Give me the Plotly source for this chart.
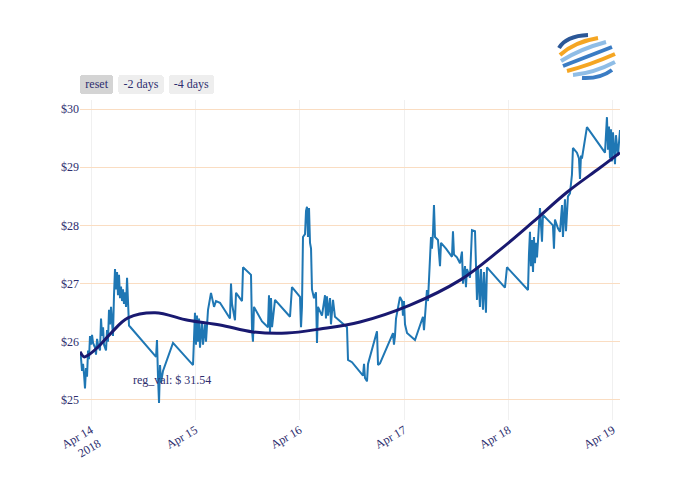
"""Price trace with polynomial regression overlay, range selector and logo."""
import plotly.graph_objects as go

_NAVY = "#191970"
_BLUE = "#1f77b4"
_TEXT = "#2E2E6E"
_FONT = "Liberation Serif, Times New Roman, serif"

# price series
times = [
    "2018-04-13 21:28", "2018-04-13 21:42", "2018-04-13 21:56", "2018-04-13 22:10",
    "2018-04-13 22:23", "2018-04-13 22:37", "2018-04-13 22:51", "2018-04-13 23:05",
    "2018-04-13 23:19", "2018-04-13 23:32", "2018-04-13 23:46", "2018-04-14 00:00",
    "2018-04-14 00:14", "2018-04-14 00:28", "2018-04-14 00:55", "2018-04-14 01:09",
    "2018-04-14 01:23", "2018-04-14 01:37", "2018-04-14 02:04", "2018-04-14 02:18",
    "2018-04-14 02:32", "2018-04-14 02:46", "2018-04-14 02:59", "2018-04-14 03:27",
    "2018-04-14 03:41", "2018-04-14 03:54", "2018-04-14 04:08", "2018-04-14 04:22",
    "2018-04-14 04:36", "2018-04-14 04:50", "2018-04-14 05:03", "2018-04-14 05:17",
    "2018-04-14 05:31", "2018-04-14 05:45", "2018-04-14 05:59", "2018-04-14 06:12",
    "2018-04-14 06:26", "2018-04-14 06:40", "2018-04-14 06:54", "2018-04-14 07:08",
    "2018-04-14 07:21", "2018-04-14 07:35", "2018-04-14 07:49", "2018-04-14 08:03",
    "2018-04-14 08:17", "2018-04-14 08:30", "2018-04-14 08:44", "2018-04-14 14:57",
    "2018-04-14 15:10", "2018-04-14 15:24", "2018-04-14 15:38", "2018-04-14 15:52",
    "2018-04-14 16:06", "2018-04-14 16:33", "2018-04-14 18:51", "2018-04-14 23:27",
    "2018-04-14 23:41", "2018-04-14 23:54", "2018-04-15 00:08", "2018-04-15 00:22",
    "2018-04-15 00:36", "2018-04-15 00:50", "2018-04-15 01:03", "2018-04-15 01:31",
    "2018-04-15 01:45", "2018-04-15 02:12", "2018-04-15 02:26", "2018-04-15 02:54",
    "2018-04-15 03:35", "2018-04-15 04:17", "2018-04-15 04:44", "2018-04-15 05:39",
    "2018-04-15 07:57", "2018-04-15 08:11", "2018-04-15 08:25", "2018-04-15 09:06",
    "2018-04-15 09:20", "2018-04-15 10:43", "2018-04-15 10:57", "2018-04-15 12:47",
    "2018-04-15 13:01", "2018-04-15 13:14", "2018-04-15 13:28", "2018-04-15 15:19",
    "2018-04-15 16:41", "2018-04-15 16:55", "2018-04-15 17:09", "2018-04-15 17:23",
    "2018-04-15 17:37", "2018-04-15 18:18", "2018-04-15 21:45", "2018-04-15 22:12",
    "2018-04-16 00:03", "2018-04-16 00:17", "2018-04-16 00:30", "2018-04-16 00:44",
    "2018-04-16 01:12", "2018-04-16 01:26", "2018-04-16 01:39", "2018-04-16 01:53",
    "2018-04-16 02:07", "2018-04-16 02:21", "2018-04-16 02:35", "2018-04-16 02:48",
    "2018-04-16 03:16", "2018-04-16 03:43", "2018-04-16 03:57", "2018-04-16 04:11",
    "2018-04-16 05:06", "2018-04-16 05:48", "2018-04-16 06:01", "2018-04-16 06:15",
    "2018-04-16 06:29", "2018-04-16 06:57", "2018-04-16 07:10", "2018-04-16 07:38",
    "2018-04-16 08:05", "2018-04-16 10:51", "2018-04-16 11:05", "2018-04-16 12:00",
    "2018-04-16 14:32", "2018-04-16 14:46", "2018-04-16 14:59", "2018-04-16 15:27",
    "2018-04-16 15:41", "2018-04-16 17:45", "2018-04-16 17:59", "2018-04-16 18:26",
    "2018-04-16 21:26", "2018-04-16 21:39", "2018-04-16 21:53", "2018-04-16 22:07",
    "2018-04-16 23:02", "2018-04-16 23:30", "2018-04-16 23:43", "2018-04-16 23:57",
    "2018-04-17 00:11", "2018-04-17 00:39", "2018-04-17 02:29", "2018-04-17 04:19",
    "2018-04-17 04:33", "2018-04-17 04:47", "2018-04-17 05:14", "2018-04-17 05:28",
    "2018-04-17 05:42", "2018-04-17 05:56", "2018-04-17 06:10", "2018-04-17 06:23",
    "2018-04-17 06:37", "2018-04-17 06:51", "2018-04-17 07:05", "2018-04-17 07:46",
    "2018-04-17 08:14", "2018-04-17 08:28", "2018-04-17 09:37", "2018-04-17 10:59",
    "2018-04-17 11:13", "2018-04-17 11:27", "2018-04-17 12:08", "2018-04-17 12:50",
    "2018-04-17 13:17", "2018-04-17 13:31", "2018-04-17 13:59", "2018-04-17 14:12",
    "2018-04-17 14:26", "2018-04-17 15:08", "2018-04-17 15:35", "2018-04-17 16:17",
    "2018-04-17 16:30", "2018-04-17 16:44", "2018-04-17 16:58", "2018-04-17 17:25",
    "2018-04-17 17:39", "2018-04-17 18:07", "2018-04-17 18:21", "2018-04-17 18:48",
    "2018-04-17 19:02", "2018-04-17 23:10", "2018-04-17 23:38", "2018-04-18 04:28",
    "2018-04-18 04:41", "2018-04-18 04:55", "2018-04-18 05:09", "2018-04-18 05:23",
    "2018-04-18 05:37", "2018-04-18 05:50", "2018-04-18 06:04", "2018-04-18 06:18",
    "2018-04-18 06:32", "2018-04-18 07:13", "2018-04-18 07:41", "2018-04-18 07:54",
    "2018-04-18 10:12", "2018-04-18 10:26", "2018-04-18 10:40", "2018-04-18 11:21",
    "2018-04-18 11:49", "2018-04-18 12:17", "2018-04-18 12:30", "2018-04-18 12:58",
    "2018-04-18 13:12", "2018-04-18 13:39", "2018-04-18 14:07", "2018-04-18 14:34",
    "2018-04-18 14:48", "2018-04-18 15:43", "2018-04-18 16:11", "2018-04-18 16:25",
    "2018-04-18 16:39", "2018-04-18 16:52", "2018-04-18 18:01", "2018-04-18 22:10",
    "2018-04-18 22:37", "2018-04-18 22:51", "2018-04-18 23:05", "2018-04-18 23:19",
    "2018-04-18 23:32", "2018-04-18 23:46", "2018-04-19 00:00", "2018-04-19 00:28",
    "2018-04-19 00:41", "2018-04-19 01:09", "2018-04-19 01:37",
]
prices = [
    25.80, 25.72, 25.50, 25.62, 25.45, 25.20, 25.55, 25.40,
    25.85, 25.70, 26.10, 25.95, 26.12, 25.98, 25.90, 25.78,
    26.05, 25.95, 25.85, 26.40, 26.10, 26.25, 25.95, 25.85,
    26.20, 26.00, 26.55, 26.30, 26.60, 26.20, 26.10, 26.80,
    27.25, 26.90, 27.20, 26.80, 27.15, 26.75, 26.95, 26.70,
    26.90, 26.65, 26.85, 26.60, 27.10, 26.70, 26.28, 25.74,
    26.03, 25.40, 24.95, 25.60, 25.30, 25.50, 25.98, 25.60,
    26.10, 26.50, 25.95, 26.45, 26.00, 26.40, 25.90, 26.35,
    25.95, 26.30, 26.00, 26.55, 26.84, 26.60, 26.70, 26.67,
    26.40, 27.00, 26.65, 26.37, 26.84, 26.70, 27.28, 27.15,
    26.20, 26.00, 26.60, 26.35, 26.25, 26.80, 26.15, 26.75,
    26.25, 26.72, 26.43, 26.94, 26.77, 26.25, 26.60, 27.80,
    27.85, 28.25, 28.32, 27.80, 28.30, 27.70, 27.60, 26.90,
    26.75, 26.85, 25.98, 26.60, 26.45, 26.80, 26.40, 26.78,
    26.45, 26.75, 26.30, 26.72, 26.43, 26.25, 25.69, 25.65,
    25.42, 25.62, 25.38, 25.32, 25.62, 26.18, 25.60, 25.63,
    26.15, 25.95, 26.10, 26.40, 26.77, 26.70, 26.45, 26.70,
    26.30, 26.15, 26.03, 26.43, 26.20, 26.50, 26.89, 26.70,
    27.00, 27.37, 27.80, 27.60, 27.87, 28.35, 27.80, 27.75,
    27.30, 27.70, 27.60, 27.46, 27.90, 27.50, 27.45, 27.35,
    27.55, 27.00, 27.30, 26.94, 27.25, 27.10, 27.92, 27.90,
    27.40, 26.72, 27.30, 26.60, 27.25, 26.55, 27.20, 26.50,
    27.28, 26.93, 27.28, 26.89, 27.50, 27.89, 27.30, 27.75,
    27.20, 27.80, 27.35, 27.70, 27.45, 28.30, 27.72, 28.18,
    28.00, 27.60, 28.10, 27.95, 27.89, 28.35, 27.80, 28.45,
    27.90, 28.50, 28.55, 28.87, 29.33, 29.25, 29.15, 28.80,
    29.20, 29.15, 29.69, 29.25, 29.86, 29.30, 29.70, 29.15,
    29.65, 29.10, 29.60, 29.05, 29.55, 29.20, 29.64,
]

# regression curve samples
reg_times = [
    "2018-04-13 21:28", "2018-04-13 22:23", "2018-04-13 23:19", "2018-04-14 01:37",
    "2018-04-14 04:36", "2018-04-14 08:30", "2018-04-14 14:43", "2018-04-14 22:18",
    "2018-04-15 05:39", "2018-04-15 13:14", "2018-04-15 21:03", "2018-04-16 04:39",
    "2018-04-16 13:50", "2018-04-17 01:20", "2018-04-17 12:50", "2018-04-17 22:01",
    "2018-04-18 05:37", "2018-04-18 13:26", "2018-04-18 21:01", "2018-04-19 01:37",
]
reg_prices = [
    25.83, 25.74, 25.77, 25.91, 26.15, 26.41, 26.50, 26.37,
    26.29, 26.17, 26.15, 26.22, 26.34, 26.63, 27.06, 27.58,
    28.06, 28.57, 28.99, 29.25,
]

reg_label = "reg_val: $ 31.54"
reg_label_at = ("2018-04-14 18:37", 25.34)

button_labels = ["reset", "-2 days", "-4 days"]


def _px(x, y):
    # pixel position -> paper coords for the 700x500 canvas (plot area 80..620, 100..420)
    return (x - 80) / 540, (420 - y) / 320


def _arc(p0, c, p1):
    (x0, y0), (cx, cy), (x1, y1) = _px(*p0), _px(*c), _px(*p1)
    return f"M {x0},{y0} Q {cx},{cy} {x1},{y1}"


# logo stripes: (start, control, end, colour)
_logo = [
    ((559, 48), (566, 36), (588, 35), "#2B5797"),
    ((560, 55), (574, 42), (598, 38), "#F5A623"),
    ((561, 61), (580, 49), (606, 42), "#8FBDE6"),
    ((563, 66), (586, 57), (612, 47), "#3A7CC4"),
    ((567, 71), (590, 65), (615, 54), "#F5A623"),
    ((573, 75), (594, 73), (615, 62), "#8FBDE6"),
    ((582, 78), (600, 79), (612, 70), "#3A7CC4"),
]

fig = go.Figure()
fig.add_scatter(x=times, y=prices, mode="lines", name="price",
                line=dict(color=_BLUE, width=2))
fig.add_scatter(x=reg_times, y=reg_prices, mode="lines", name="regression",
                line=dict(color=_NAVY, width=3, shape="spline"))

fig.add_annotation(x=reg_label_at[0], y=reg_label_at[1], text=reg_label,
                   showarrow=False, font=dict(color=_TEXT, size=12, family=_FONT))

for p0, c, p1, col in _logo:
    fig.add_shape(type="path", xref="paper", yref="paper", path=_arc(p0, c, p1),
                  line=dict(color=col, width=4))

fig.update_layout(
    template="none",
    width=700, height=500,
    margin=dict(l=80, r=80, t=100, b=80),
    paper_bgcolor="#FFFFFF", plot_bgcolor="#FFFFFF",
    font=dict(family=_FONT, color=_TEXT, size=12),
    showlegend=False,
    xaxis=dict(
        type="date", tickangle=-30, showgrid=True, gridcolor="#F0F0F0",
        zeroline=False, showline=False, ticks="",
        rangeselector=dict(
            buttons=[
                dict(step="all", label=button_labels[0]),
                dict(count=2, step="day", stepmode="backward", label=button_labels[1]),
                dict(count=4, step="day", stepmode="backward", label=button_labels[2]),
            ],
            bgcolor="#EEEEEE", activecolor="#D4D4D4",
            font=dict(family=_FONT, color=_TEXT, size=12),
        ),
    ),
    yaxis=dict(
        range=[24.656, 30.155], tickprefix="$", dtick=1,
        showgrid=True, gridcolor="#FADDC2", zeroline=False, ticks="",
    ),
)

# drop the browser's default body margin so the 700x500 figure fills the window
fig.write_html("out.html", config={"displayModeBar": False},
               post_script="document.body.style.margin='0';")
